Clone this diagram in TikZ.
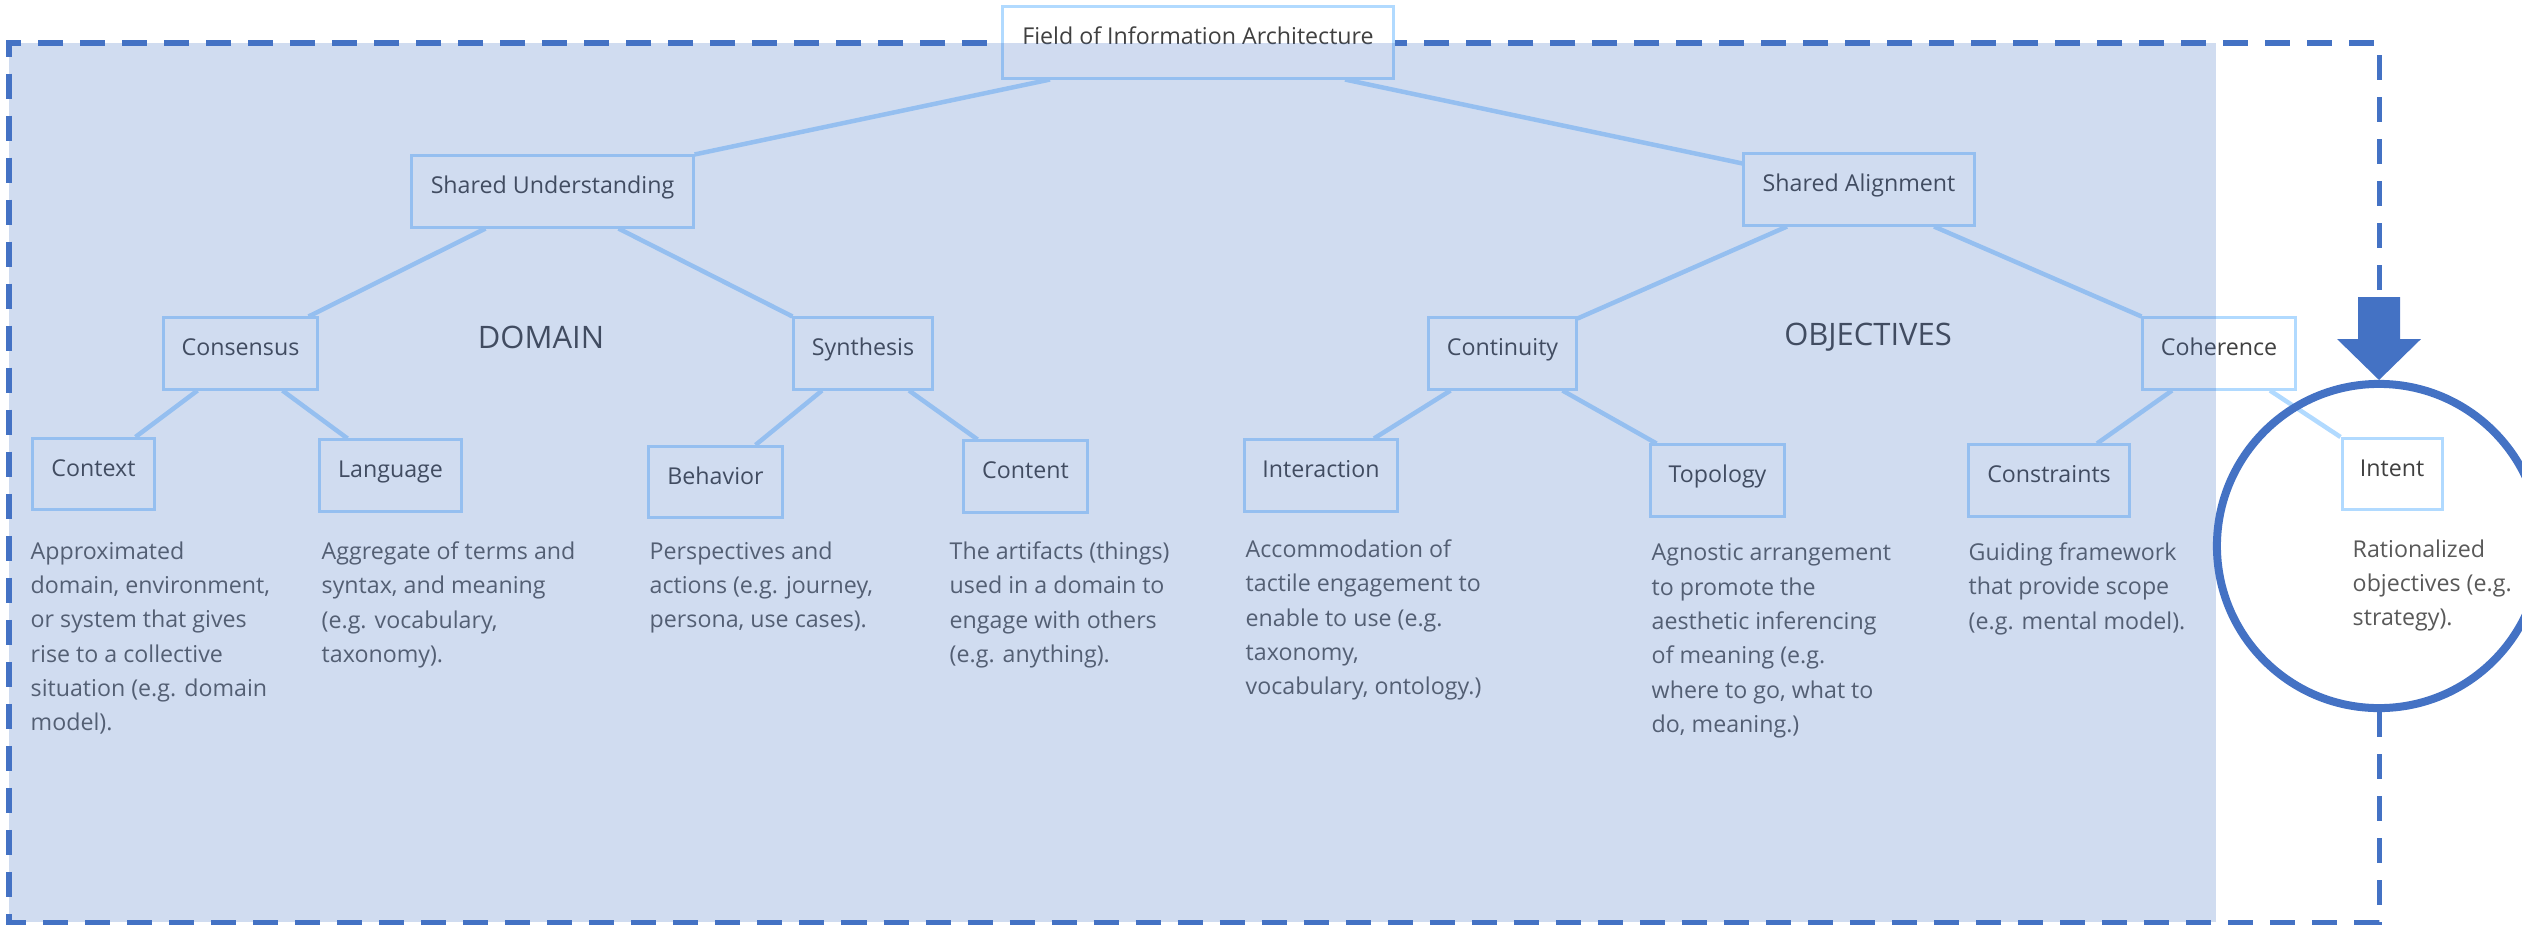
\documentclass[tikz,border=0pt]{standalone}
\usepackage{fontspec}
\setmainfont{Open Sans}
\usetikzlibrary{calc}

\definecolor{frameblue}{HTML}{4472C4}
\definecolor{boxline}{RGB}{177,218,255}
\definecolor{labelgray}{HTML}{404040}
\definecolor{descgray}{HTML}{595959}

\begin{document}
\begin{tikzpicture}[x=0.01cm, y=-0.01cm,
    box/.style={draw=boxline, line width=0.03cm, minimum height=0.71cm,
        text height=0.2cm, text depth=0.16cm, text=labelgray,
        font=\fontsize{6.6}{8}\selectfont},
    link/.style={draw=boxline, line width=0.045cm},
    desc/.style={anchor=north west, inner sep=0pt, align=left, text=descgray,
        font=\fontsize{6.6}{9.76}\selectfont},
    heading/.style={text=labelgray, font=\fontsize{8.8}{10}\selectfont}]
    \useasboundingbox (0,0) rectangle (2522,924);

    % Dashed frame
    \draw[frameblue, line width=0.05cm, dash pattern=on 0.25cm off 0.17cm]
        (2379,290) -- (2379,43) -- (9,43) -- (9,922) -- (2379,922) -- (2379,708);

    % Nodes
    \node[box, fill=white, minimum width=3.9cm] (field) at (1198,42.5) {Field of Information Architecture};
    \node[box, minimum width=2.81cm] (su) at (552.5,191.5) {Shared Understanding};
    \node[box, minimum width=2.3cm] (sa) at (1859,189.5) {Shared Alignment};
    \node[box, minimum width=1.53cm] (cons) at (240.5,353.5) {Consensus};
    \node[box, minimum width=1.38cm] (syn) at (863,353.5) {Synthesis};
    \node[box, minimum width=1.47cm] (cont) at (1502.5,353.5) {Continuity};
    \node[box, minimum width=1.52cm] (coh) at (2219,353.5) {Coherence};
    \node[box, minimum width=1.21cm] (ctx) at (93.5,474) {Context};
    \node[box, minimum width=1.41cm] (lang) at (390.5,475.5) {Language};
    \node[box, minimum width=1.33cm] (beh) at (715.5,482) {Behavior};
    \node[box, minimum width=1.23cm] (cnt) at (1025.5,476.5) {Content};
    \node[box, minimum width=1.52cm] (inter) at (1321,475.5) {Interaction};
    \node[box, minimum width=1.33cm] (topo) at (1717.5,480.5) {Topology};
    \node[box, minimum width=1.6cm] (constr) at (2049,480.5) {Constraints};
    \node[box, minimum width=1.0cm] (intent) at (2392,474) {Intent};

    % Edges
    \draw[link] ($(field.south)+(-148,0)$) -- (su.north east);
    \draw[link] ($(field.south)+(147,0)$) -- ($(sa.north west)+(0,11)$);
    \draw[link] ($(su.south)+(-67,0)$) -- ($(cons.north east)+(-10,0)$);
    \draw[link] ($(su.south)+(66,0)$) -- (syn.north west);
    \draw[link] ($(cons.south)+(-43,0)$) -- ($(ctx.north)+(42,0)$);
    \draw[link] ($(cons.south)+(42,0)$) -- ($(lang.north)+(-43,0)$);
    \draw[link] ($(syn.south)+(-41,0)$) -- ($(beh.north)+(40,0)$);
    \draw[link] ($(syn.south)+(46,0)$) -- ($(cnt.north)+(-48,0)$);
    \draw[link] ($(sa.south)+(-72,0)$) -- ($(cont.north east)+(0,2)$);
    \draw[link] ($(sa.south)+(75,0)$) -- (coh.north west);
    \draw[link] ($(cont.south)+(-52,0)$) -- ($(inter.north)+(53,0)$);
    \draw[link] ($(cont.south)+(60,0)$) -- ($(topo.north west)+(7,0)$);
    \draw[link] ($(coh.south)+(-47,0)$) -- ($(constr.north)+(48,0)$);
    \draw[link] ($(coh.south)+(51,0)$) -- (intent.north west);

    % Group labels
    \node[heading] (domain) at (541,337) {DOMAIN};
    \node[heading] (objectives) at (1868,337) {OBJECTIVES};

    % Descriptions
    \node[desc] (ctxdesc) at (30,541) {Approximated\\domain, environment,\\or system that gives\\rise to a collective\\situation (e.g. domain\\model).};
    \node[desc] (langdesc) at (321,541) {Aggregate of terms and\\syntax, and meaning\\(e.g. vocabulary,\\taxonomy).};
    \node[desc] (behdesc) at (649,541) {Perspectives and\\actions (e.g. journey,\\persona, use cases).};
    \node[desc] (cntdesc) at (949,541) {The artifacts (things)\\used in a domain to\\engage with others\\(e.g. anything).};
    \node[desc] (interdesc) at (1245,539) {Accommodation of\\tactile engagement to\\enable to use (e.g.\\taxonomy,\\vocabulary, ontology.)};
    \node[desc] (topodesc) at (1651,543) {Agnostic arrangement\\to promote the\\aesthetic inferencing\\of meaning (e.g.\\where to go, what to\\do, meaning.)};
    \node[desc] (constrdesc) at (1968,542) {Guiding framework\\that provide scope\\(e.g. mental model).};
    \node[desc] (intentdesc) at (2352,539) {Rationalized\\objectives (e.g.\\strategy).};

    % Shaded area
    \fill[frameblue, fill opacity=0.25] (9,43) rectangle (2216,922);

    % Focus on intent
    \draw[frameblue, line width=0.08cm] (2379,546) circle[radius=1.62cm];
    \fill[frameblue] (2358,297) -- (2400,297) -- (2400,339) -- (2421,339)
        -- (2379,380) -- (2337,339) -- (2358,339) -- cycle;
\end{tikzpicture}
\end{document}
